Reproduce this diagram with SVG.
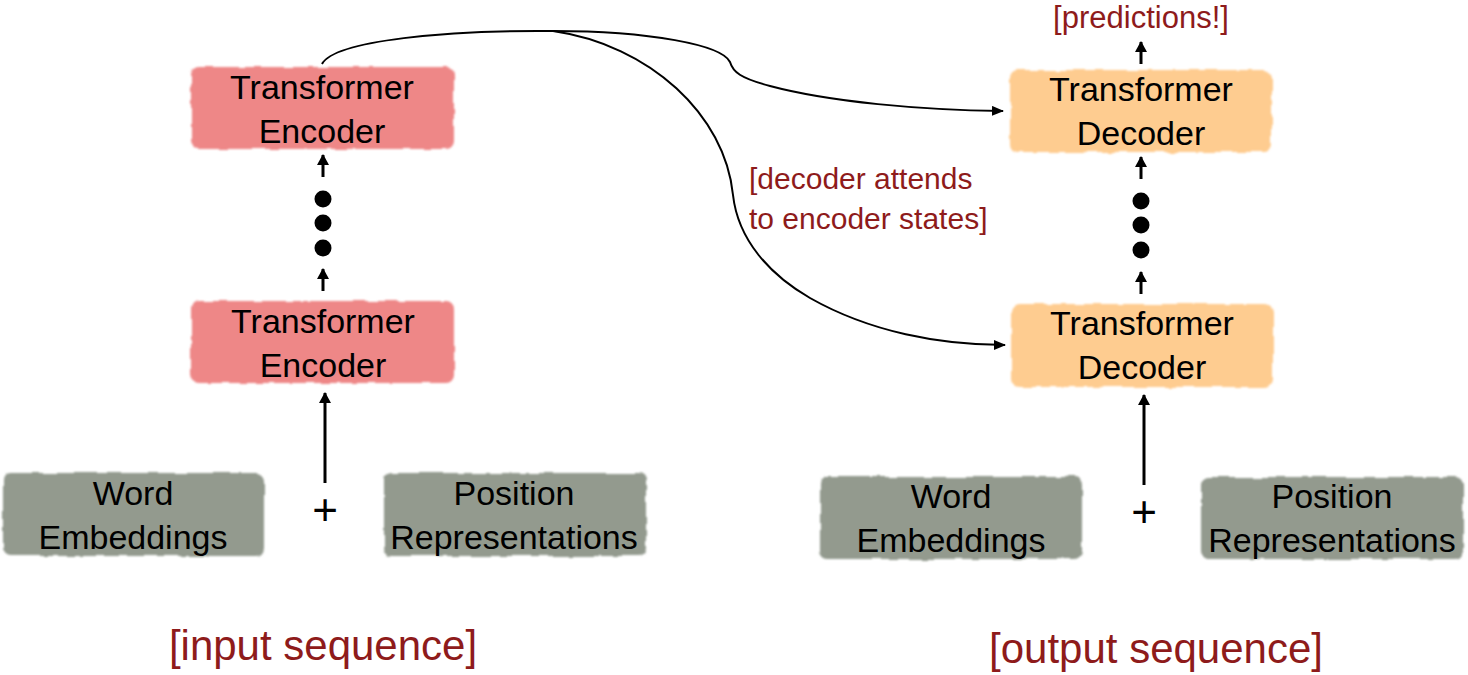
<svg xmlns="http://www.w3.org/2000/svg" width="1468" height="675" viewBox="0 0 1468 675">
<style>
.box{stroke:none;filter:url(#rough)}
.enc{fill:#EE8787}
.dec{fill:#FECC90}
.emb{fill:#939A8E}
.t{font-family:"Liberation Sans",Arial,sans-serif;font-size:34px;fill:#000;text-anchor:middle}
.p{font-family:"Liberation Sans",Arial,sans-serif;font-size:44px;fill:#000;text-anchor:middle}
.r{font-family:"Liberation Sans",Arial,sans-serif;fill:#8E1B1B}
.c{fill:none;stroke:#000;stroke-width:2}
.v{fill:none;stroke:#000;stroke-width:3}
</style>
<defs>
<filter id="rough" x="-5%" y="-10%" width="110%" height="120%">
<feTurbulence type="fractalNoise" baseFrequency="0.06" numOctaves="2" seed="3" result="n"/>
<feDisplacementMap in="SourceGraphic" in2="n" scale="5" xChannelSelector="R" yChannelSelector="G" result="d"/>
<feGaussianBlur in="d" stdDeviation="0.9"/>
</filter>
<marker id="ah" markerWidth="12" markerHeight="10" refX="11" refY="5" orient="auto" markerUnits="userSpaceOnUse">
<path d="M0,0 L12,5 L0,10 z" fill="#000"/>
</marker>
<marker id="av" markerWidth="12" markerHeight="12" refX="10" refY="6" orient="auto" markerUnits="userSpaceOnUse">
<path d="M0,0 L11,6 L0,12 z" fill="#000"/>
</marker>
</defs>
<rect width="1468" height="675" fill="#fff"/>

<g id="connectors">
<path class="c" d="M322,64 C335,40 450,30 553,31 C650,31 722,45 730,62 C733,72 740,78 770,86 C830,102 920,110 1003,111" marker-end="url(#ah)"/>
<path class="c" d="M553,31 C650,45 725,115 733,195 C738,240 770,275 810,298 C870,332 940,345 1005,345" marker-end="url(#ah)"/>
<line class="v" x1="325" y1="483" x2="325" y2="393" marker-end="url(#av)"/>
<line class="v" x1="1144" y1="485" x2="1144" y2="395" marker-end="url(#av)"/>
<line class="v" x1="323" y1="177" x2="323" y2="155" marker-end="url(#av)"/>
<line class="v" x1="323" y1="291" x2="323" y2="269" marker-end="url(#av)"/>
<line class="v" x1="1141" y1="179" x2="1141" y2="157" marker-end="url(#av)"/>
<line class="v" x1="1141" y1="294" x2="1141" y2="272" marker-end="url(#av)"/>
<line class="v" x1="1141" y1="64" x2="1141" y2="42" marker-end="url(#av)"/>
</g>

<g id="dots-enc">
<circle cx="323" cy="199" r="8.5"/>
<circle cx="323" cy="223" r="8.5"/>
<circle cx="323" cy="248" r="8.5"/>
</g>
<g id="dots-dec">
<circle cx="1141" cy="201" r="8.5"/>
<circle cx="1141" cy="225" r="8.5"/>
<circle cx="1141" cy="250" r="8.5"/>
</g>

<g id="encoder-top">
<rect class="box enc" x="191" y="67" width="263" height="82" rx="8"/>
<text class="t" x="322" y="99">Transformer</text>
<text class="t" x="322" y="143">Encoder</text>
</g>
<g id="encoder-bottom">
<rect class="box enc" x="191" y="301" width="263" height="82" rx="8"/>
<text class="t" x="323" y="333">Transformer</text>
<text class="t" x="323" y="377">Encoder</text>
</g>
<g id="decoder-top">
<rect class="box dec" x="1010" y="70" width="262" height="82" rx="8"/>
<text class="t" x="1141" y="101">Transformer</text>
<text class="t" x="1141" y="145">Decoder</text>
</g>
<g id="decoder-bottom">
<rect class="box dec" x="1011" y="304" width="262" height="83" rx="8"/>
<text class="t" x="1142" y="335">Transformer</text>
<text class="t" x="1142" y="379">Decoder</text>
</g>
<g id="word-emb-in">
<rect class="box emb" x="3" y="473" width="261" height="83" rx="8"/>
<text class="t" x="133" y="505">Word</text>
<text class="t" x="133" y="549">Embeddings</text>
</g>
<g id="pos-rep-in">
<rect class="box emb" x="384" y="473" width="262" height="83" rx="8"/>
<text class="t" x="514" y="505">Position</text>
<text class="t" x="514" y="549">Representations</text>
</g>
<g id="word-emb-out">
<rect class="box emb" x="820" y="477" width="262" height="82" rx="8"/>
<text class="t" x="951" y="508">Word</text>
<text class="t" x="951" y="552">Embeddings</text>
</g>
<g id="pos-rep-out">
<rect class="box emb" x="1201" y="477" width="262" height="82" rx="8"/>
<text class="t" x="1332" y="508">Position</text>
<text class="t" x="1332" y="552">Representations</text>
</g>

<g id="plus-in"><text class="p" x="325" y="525">+</text></g>
<g id="plus-out"><text class="p" x="1144" y="527">+</text></g>

<g id="labels">
<text class="r" x="1141" y="28" font-size="31" text-anchor="middle">[predictions!]</text>
<text class="r" x="749" y="189" font-size="30">[decoder attends</text>
<text class="r" x="749" y="229" font-size="30">to encoder states]</text>
<text class="r" x="323" y="660" font-size="42" text-anchor="middle">[input sequence]</text>
<text class="r" x="1156" y="663" font-size="42" text-anchor="middle">[output sequence]</text>
</g>
</svg>
